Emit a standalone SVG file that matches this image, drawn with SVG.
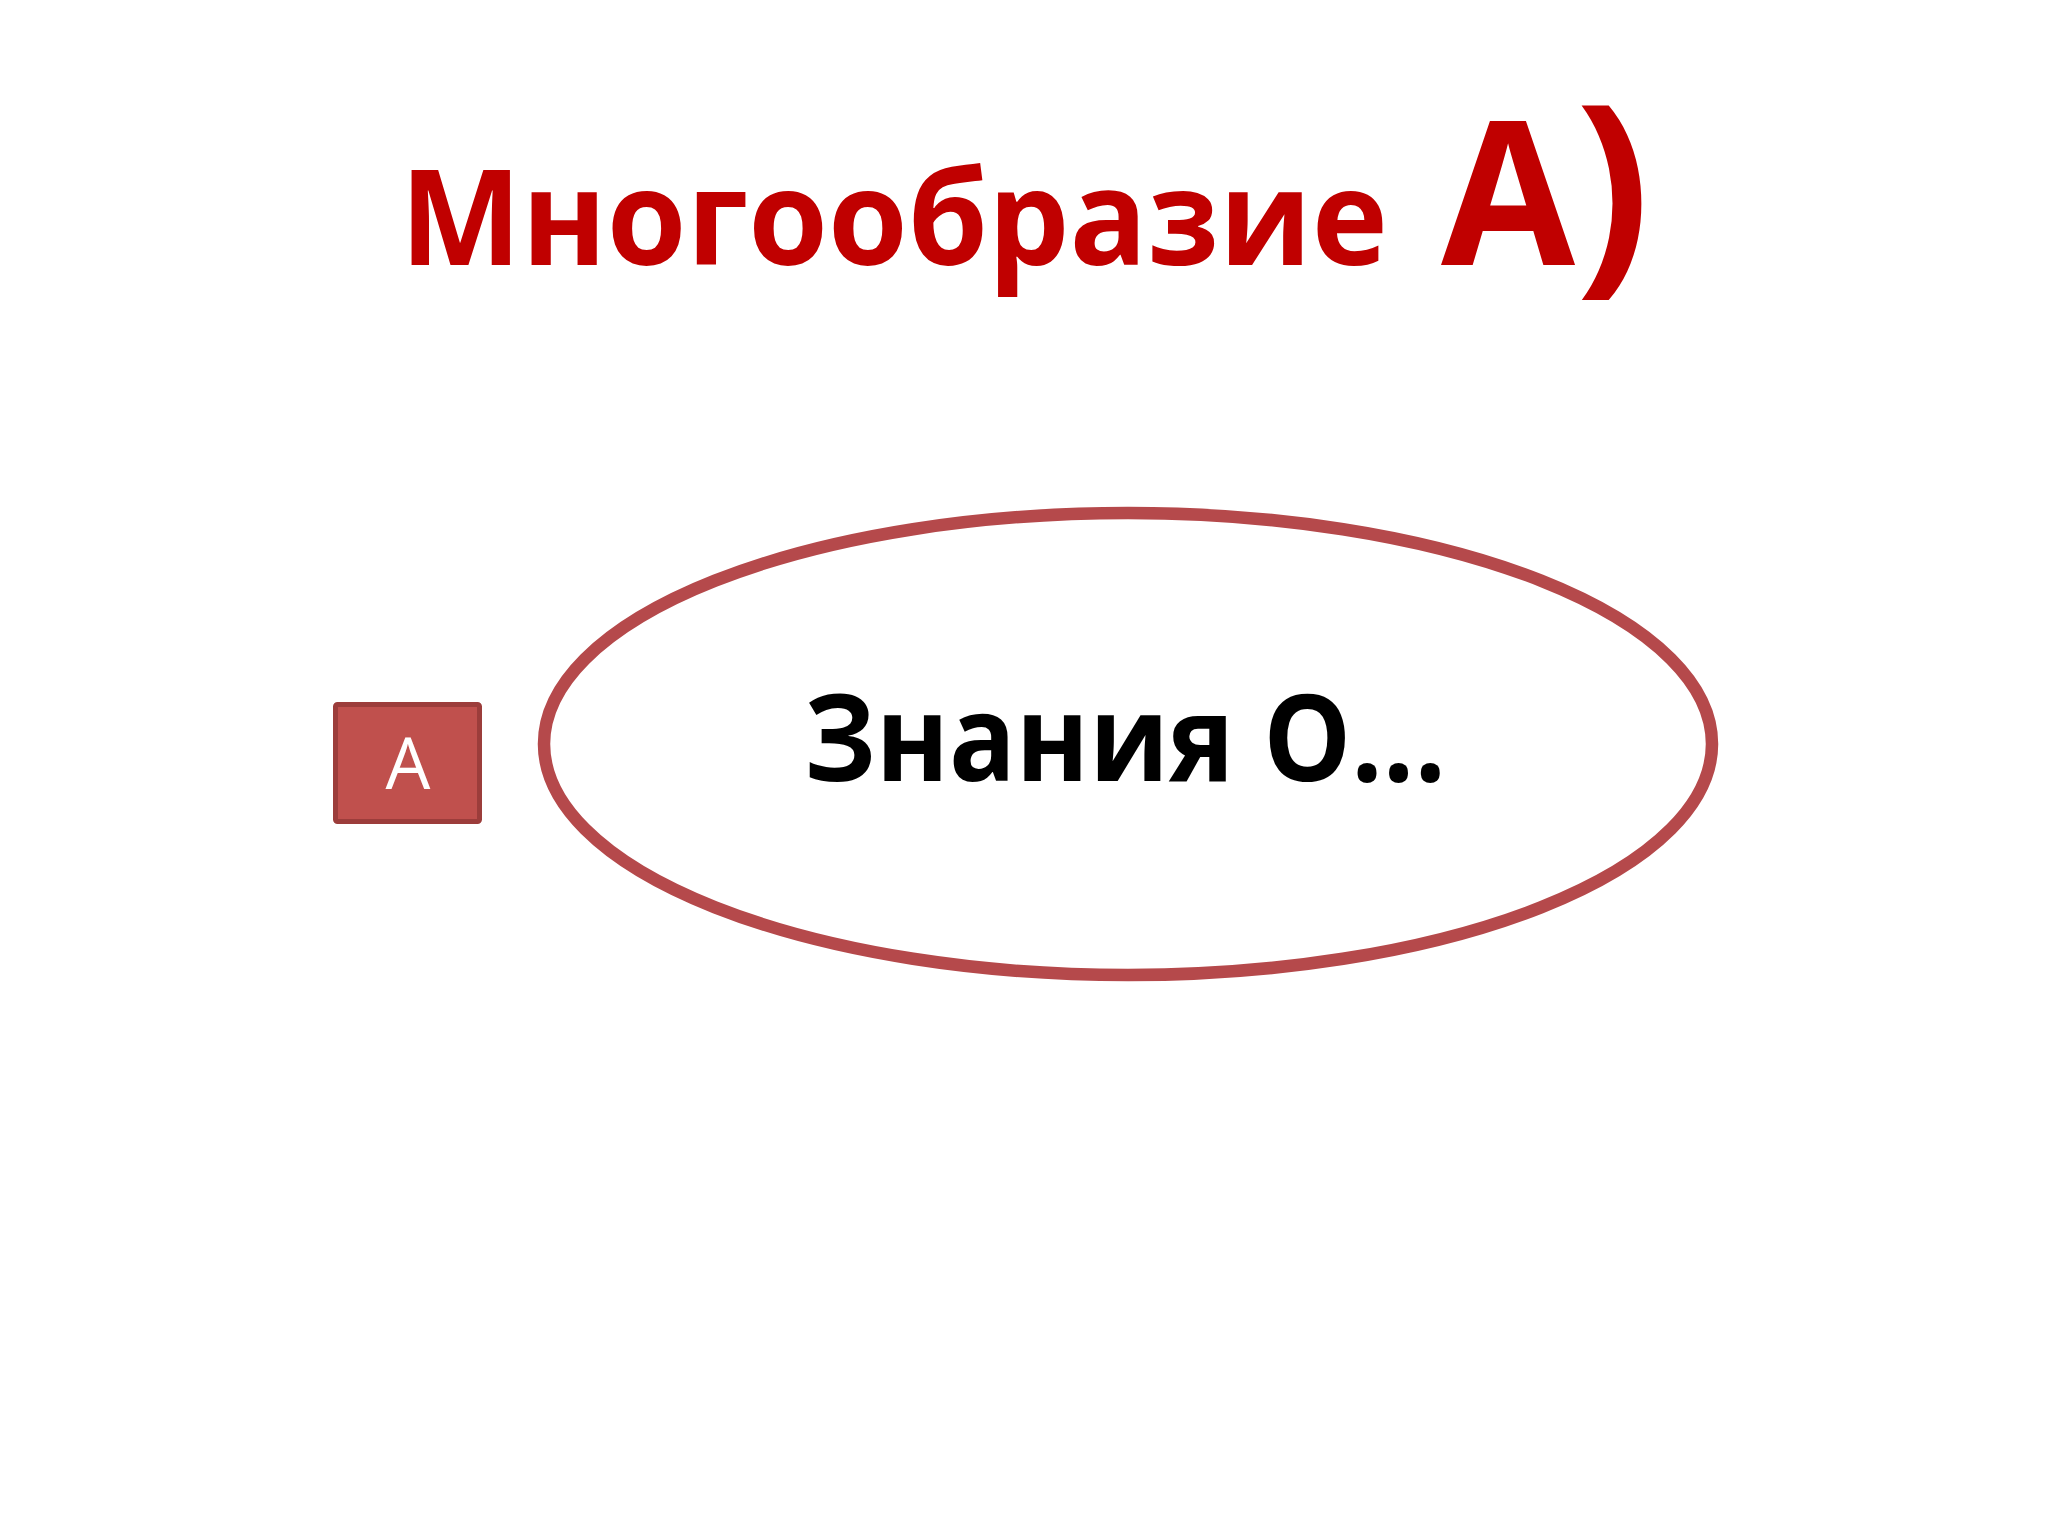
<svg xmlns="http://www.w3.org/2000/svg" width="2048" height="1536" viewBox="0 0 2048 1536">
<style>
.title{font-family:"Open Sans","Noto Sans","DejaVu Sans",sans-serif;font-weight:700;fill:#C00000}
.main{font-family:"Open Sans","Noto Sans","DejaVu Sans",sans-serif;font-weight:700;fill:#000000}
.lbl{font-family:"Open Sans","Noto Sans","DejaVu Sans",sans-serif;font-weight:400;fill:#FFFFFF}
</style>
<rect x="0" y="0" width="2048" height="1536" fill="#FFFFFF"/>
<g id="title">
<text class="title" y="265" font-size="133"><tspan x="400" textLength="988" lengthAdjust="spacingAndGlyphs">Многообразие</tspan><tspan x="1441" font-size="202" textLength="134" lengthAdjust="spacingAndGlyphs">А</tspan><tspan font-size="222">)</tspan></text>
</g>
<g id="node-ellipse">
<ellipse cx="1128" cy="744" rx="584" ry="231" fill="#FFFFFF" stroke="#B5494B" stroke-width="12.5"/>
<text class="main" x="804" y="781" font-size="121" textLength="642" lengthAdjust="spacingAndGlyphs">Знания О...</text>
</g>
<g id="node-A">
<rect x="335.5" y="704.5" width="144" height="117" rx="2" fill="#C0504D" stroke="#9C3D3B" stroke-width="5"/>
<text class="lbl" x="408" y="789" font-size="71" text-anchor="middle">A</text>
</g>
<g id="connectors"></g>
</svg>
